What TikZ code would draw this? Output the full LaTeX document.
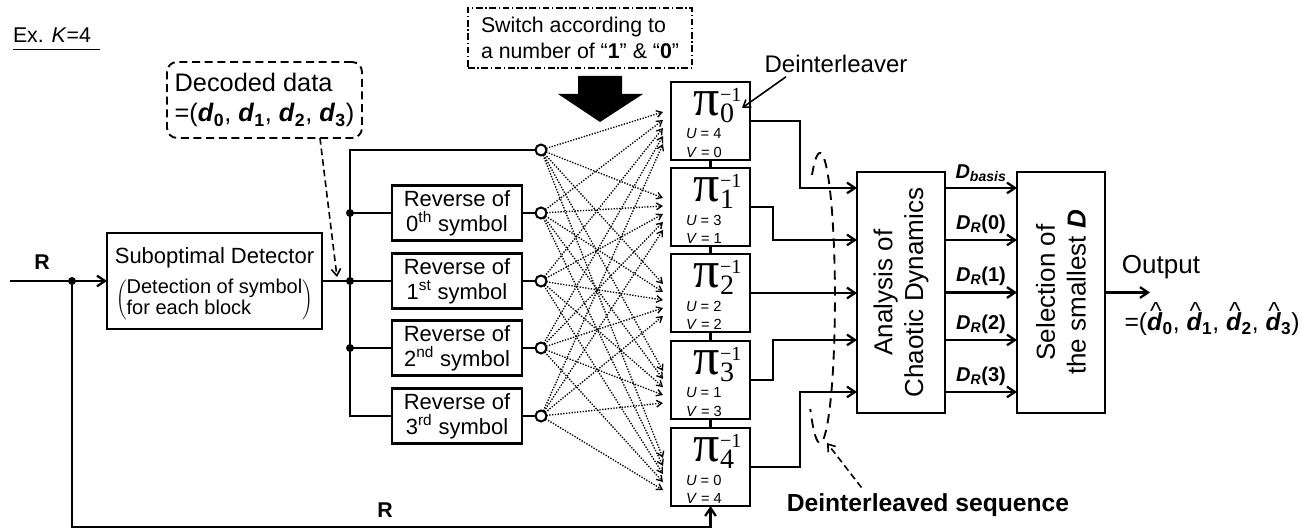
\documentclass[tikz,border=0pt]{standalone}
\usepackage{fontspec}
\setmainfont{Liberation Sans}
\newfontfamily\serifpi{Liberation Serif}
\usetikzlibrary{arrows.meta,calc}
\newdimen\pxu \pxu=0.75pt
\newcommand\fsz[2]{\fontsize{#1}{#2}\selectfont}
\newcommand\bd[1]{\textbf{\textit{#1}}}
\newcommand\dsub[1]{\bd{d}\textsubscript{\textbf{#1}}}
\newcommand\dhatsub[1]{\leavevmode\rlap{\hspace{0.12em}\raisebox{0.45em}{\textasciicircum}}\bd{d}\textsubscript{\textbf{#1}}}
\newcommand\pinv[1]{{\serifpi\fsz{39}{39}π}\rlap{\raisebox{14\pxu}{\serifpi\fsz{15}{15}−1}}\raisebox{-7\pxu}{\serifpi\fsz{21}{21}#1}}
\begin{document}
\begin{tikzpicture}[x=0.75pt,y=-0.75pt,
  every node/.style={inner sep=0pt,outer sep=0pt},
  box/.style={draw,line width=1.7pt,fill=white},
  ln/.style={line width=1.7pt},
  arr/.style={line width=1.7pt,-{Straight Barb[length=6pt,width=8pt]}},
  thinarr/.style={line width=1.2pt,-{Straight Barb[length=5pt,width=7pt]}},
  xarr/.style={line width=1pt,dash pattern=on 1pt off 1.1pt,-{Straight Barb[length=4pt,width=5pt]}},
  sw/.style={circle,draw,line width=1.5pt,fill=white,minimum size=11\pxu},
  dot/.style={circle,fill=black,minimum size=8\pxu},
  lab/.style={font=\fsz{15}{17}}
]
\useasboundingbox (0,0) rectangle (1314,530);

% title
\node[anchor=base west,font=\fsz{16}{18}] (ex) at (13,43) {Ex. \textit{K}=4};
\draw[line width=1.2pt] ([yshift=-5pt]ex.base west) -- ([xshift=7pt,yshift=-5pt]ex.base east);

% annotation boxes
\node[draw,dash pattern=on 6pt off 3.5pt,rounded corners=10\pxu,line width=1.4pt,
      minimum width=195\pxu,minimum height=76\pxu,align=left,font=\fsz{19}{23}] (dec) at (264.5,100)
      {Decoded data\\=(\dsub{0}, \dsub{1}, \dsub{2}, \dsub{3})};
\node[draw,dash pattern=on 5pt off 2pt on 1pt off 2pt,line width=1.1pt,
      minimum width=224\pxu,minimum height=60\pxu,align=left,font=\fsz{16}{19}] (swb) at (580,38)
      {Switch according to\\a number of “\textbf{1}” \& “\textbf{0}”};
\fill (578,76) -- (622,76) -- (622,94) -- (643,94) -- (600,122) -- (558,94) -- (578,94) -- cycle;

% detector
\node[box,minimum width=215\pxu,minimum height=96\pxu] (det) at (214.5,281) {};
\node[font=\fsz{16.5}{19}] (dett) at (214.5,258) {Suboptimal Detector};
\node[font=\fsz{15}{16}] (detp) at (214.5,300)
   {$\left(\vcenter{\hbox{\begin{tabular}{@{}l@{}}Detection of symbol\\for each block\end{tabular}}}\right)$};

% reverse boxes
\node[box,minimum width=130\pxu,minimum height=55\pxu,align=center,font=\fsz{16.5}{19}] (rev0) at (457,213) {Reverse of\\0\textsuperscript{th} symbol};
\node[box,minimum width=130\pxu,minimum height=55\pxu,align=center,font=\fsz{16.5}{19}] (rev1) at (457,281) {Reverse of\\1\textsuperscript{st} symbol};
\node[box,minimum width=130\pxu,minimum height=55\pxu,align=center,font=\fsz{16.5}{19}] (rev2) at (457,348) {Reverse of\\2\textsuperscript{nd} symbol};
\node[box,minimum width=130\pxu,minimum height=55\pxu,align=center,font=\fsz{16.5}{19}] (rev3) at (457,416) {Reverse of\\3\textsuperscript{rd} symbol};

% switch circles
\node[sw] (c0) at (541,150) {};
\node[sw] (c1) at (541,213) {};
\node[sw] (c2) at (541,281) {};
\node[sw] (c3) at (541,348) {};
\node[sw] (c4) at (541,416) {};

% bus
\coordinate (bt) at (350,150);
\coordinate (bb) at (350,416);
\draw[ln] (det.east) -- (rev1.west);
\draw[ln] (c0) -- (bt) -- (bb) -- (rev3.west);
\draw[ln] (bt |- rev0.west) -- (rev0.west);
\draw[ln] (bt |- rev2.west) -- (rev2.west);
\node[dot] (d0) at (bt |- rev0.west) {};
\node[dot] (d1) at (bt |- rev1.west) {};
\node[dot] (d2) at (bt |- rev2.west) {};
\draw[ln] (rev0.east) -- (c1);
\draw[ln] (rev1.east) -- (c2);
\draw[ln] (rev2.east) -- (c3);
\draw[ln] (rev3.east) -- (c4);

% deinterleavers
\foreach \i/\t in {0/82,1/168,2/254,3/341,4/428}{
  \pgfmathtruncatemacro{\u}{4-\i}
  \node[box,minimum width=79\pxu,minimum height=78\pxu] (pi\i) at (710.5,\t+39) {};
  \node[anchor=base] (pt\i) at (714,\t+34) {\pinv{\i}};
  \node[anchor=west,font=\fsz{11}{12}] (pu\i) at (686,\t+52) {\textit{U} = \u};
  \node[anchor=west,font=\fsz{11}{12}] (pv\i) at (686,\t+70) {\textit{V} = \i};
}
\foreach \i/\j in {0/1,1/2,2/3,3/4}{\draw[ln] (pi\i.south) -- (pi\j.north);}

% crossbar
\foreach \k in {0,...,4}{
  \foreach \i in {0,...,4}{
    \draw[xarr] (c\k) -- ([xshift=-6pt,yshift={-(30+8*\k)*0.75pt}]pi\i.north west);
  }
}

% R input and feedback
\coordinate (rin) at (10,281);
\node[font=\bfseries\fsz{16}{18}] (rl1) at (42,262) {R};
\draw[arr] (rin) -- (det.west);
\node[dot] (j) at (72,281) {};
\coordinate (bl) at (72,527);
\draw[arr] (j) -- (bl) -| (pi4.south);
\node[font=\bfseries\fsz{16}{18}] (rl2) at (385,510) {R};

% analysis and selection
\node[box,minimum width=88\pxu,minimum height=241\pxu] (ana) at (901,292.5) {};
\node[rotate=90,align=center,font=\fsz{19.5}{23}] (anat) at (ana.center) {Analysis of\\Chaotic Dynamics};
\node[box,minimum width=88\pxu,minimum height=241\pxu] (sel) at (1061,292.5) {};
\node[rotate=90,align=center,font=\fsz{19.5}{23}] (selt) at (sel.center) {Selection of\\the smallest \bd{D}};

\draw[arr] (pi0.east) -- ++(50,0) |- ([yshift=78.4pt]ana.west);
\draw[arr] (pi1.east) -- ++(23,0) |- ([yshift=39.4pt]ana.west);
\draw[arr] (pi2.east) -- (pi2.east -| ana.west);
\draw[arr] (pi3.east) -- ++(23,0) |- ([yshift=-35.6pt]ana.west);
\draw[arr] (pi4.east) -- ++(50,0) |- ([yshift=-74.6pt]ana.west);

\foreach \s in {78.4,39.4,0,-35.6,-74.6}{
  \draw[arr] ([yshift=\s pt]ana.east) -- ([yshift=\s pt]sel.west);
}
\node[lab] (dl0) at (981,173) {\bd{D}\textsubscript{\bd{basis}}};
\node[lab] (dl1) at (981,224) {\bd{D}\textsubscript{\bd{R}}\textbf{(0)}};
\node[lab] (dl2) at (981,276) {\bd{D}\textsubscript{\bd{R}}\textbf{(1)}};
\node[lab] (dl3) at (981,324) {\bd{D}\textsubscript{\bd{R}}\textbf{(2)}};
\node[lab] (dl4) at (981,376) {\bd{D}\textsubscript{\bd{R}}\textbf{(3)}};

% output
\coordinate (out) at (1150,292.5);
\draw[arr] (sel.east) -- (out);
\node[font=\fsz{19.5}{22}] (outl) at (1161,267) {Output};
\node[font=\fsz{18.5}{22}] (outf) at (1212,319) {=(\dhatsub{0}, \dhatsub{1}, \dhatsub{2}, \dhatsub{3})};

% deinterleaver label
\node[font=\fsz{18}{20}] (dil) at (836,64) {Deinterleaver};
\coordinate (dtip) at (742,108);
\draw[thinarr] ([xshift=16pt,yshift=-3pt]dil.south west) -- (dtip);

% decoded data arrow
\coordinate (dectip) at (337,277);
\draw[thinarr,dash pattern=on 5pt off 3pt] ([xshift=41.6pt]dec.south) -- (dectip);

% deinterleaved sequence
\draw[line width=1.4pt,dash pattern=on 7pt off 5pt] (812,175) arc[start angle=122,end angle=-130,x radius=15\pxu,y radius=145\pxu];
\node[font=\bfseries\fsz{18.5}{20}] (dseq) at (928,505) {Deinterleaved sequence};
\coordinate (sqtip) at (827,443);
\draw[thinarr,dash pattern=on 5pt off 3pt] ([xshift=56pt,yshift=4.5pt]dseq.north west) -- (sqtip);
\end{tikzpicture}
\end{document}
